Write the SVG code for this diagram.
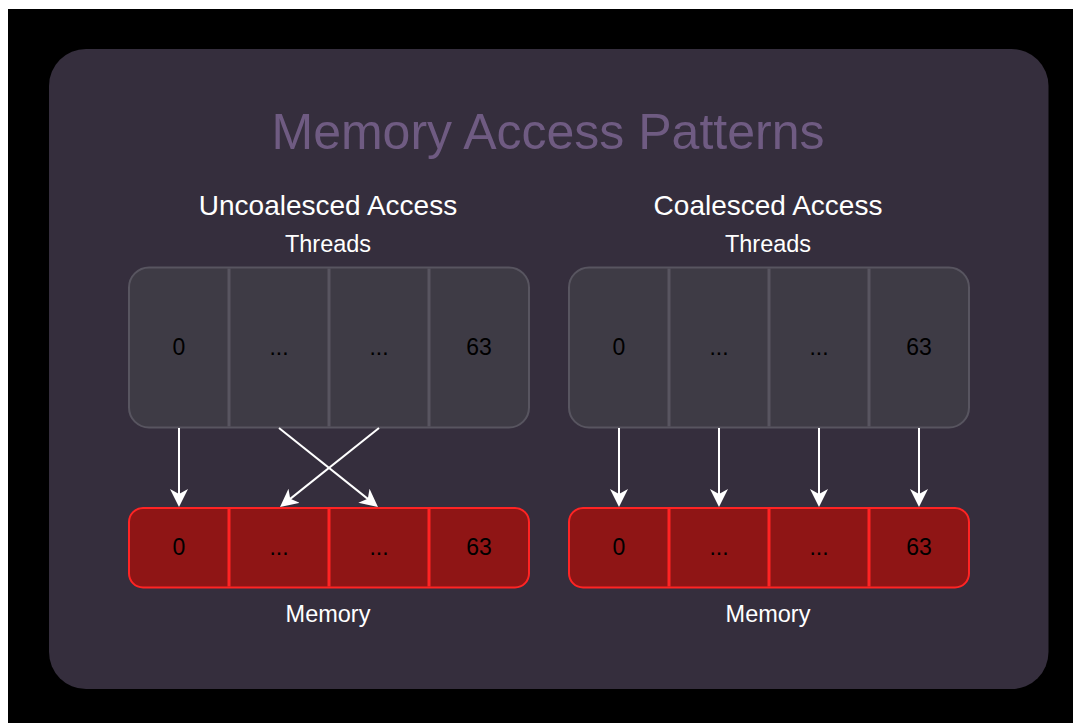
<svg xmlns="http://www.w3.org/2000/svg" width="1073" height="723" viewBox="0 0 1073 723">
  <defs>
    <style>
      .txt { font-family: "Liberation Sans", Arial, sans-serif; }
      .title { font-size: 50px; fill: #6f5b82; }
      .heading { font-size: 28px; fill: #ffffff; }
      .label { font-size: 23.5px; fill: #ffffff; }
      .cell { font-size: 23px; fill: #000000; }
      .threads { fill: #3e3b45; stroke: #585560; stroke-width: 2; }
      .threads-div { stroke: #585560; stroke-width: 3; }
      .mem { fill: #8f1515; stroke: #ff2424; stroke-width: 2; }
      .mem-div { stroke: #ff2424; stroke-width: 3; }
      .conn { stroke: #ffffff; stroke-width: 2; fill: none; marker-end: url(#arrow); }
    </style>
    <marker id="arrow" viewBox="0 0 18 18" refX="11" refY="9" markerWidth="18" markerHeight="18" markerUnits="userSpaceOnUse" orient="auto">
      <path d="M0,0 L18,9 L0,18 L5,9 Z" fill="#ffffff"/>
    </marker>
  </defs>

  <!-- page and frame -->
  <rect x="0" y="0" width="1073" height="723" fill="#ffffff"/>
  <rect x="8" y="9" width="1065" height="714" fill="#000000"/>
  <rect x="49" y="49" width="999.5" height="640" rx="37" fill="#352e3d"/>

  <text class="txt title" x="548" y="149" text-anchor="middle">Memory Access Patterns</text>

  <!-- left panel: uncoalesced -->
  <g id="uncoalesced-header">
    <text class="txt heading" x="328" y="215" text-anchor="middle">Uncoalesced Access</text>
    <text class="txt label" x="328" y="252" text-anchor="middle">Threads</text>
  </g>
  <g id="uncoalesced-threads">
    <rect class="threads" x="129" y="267.5" width="400" height="160" rx="20"/>
    <line class="threads-div" x1="229" y1="268.5" x2="229" y2="426.5"/>
    <line class="threads-div" x1="329" y1="268.5" x2="329" y2="426.5"/>
    <line class="threads-div" x1="429" y1="268.5" x2="429" y2="426.5"/>
    <text class="txt cell" x="179" y="355" text-anchor="middle">0</text>
    <text class="txt cell" x="279" y="355" text-anchor="middle">...</text>
    <text class="txt cell" x="379" y="355" text-anchor="middle">...</text>
    <text class="txt cell" x="479" y="355" text-anchor="middle">63</text>
  </g>
  <g id="uncoalesced-memory">
    <rect class="mem" x="129" y="508" width="400" height="79.5" rx="14"/>
    <line class="mem-div" x1="229" y1="509" x2="229" y2="586.5"/>
    <line class="mem-div" x1="329" y1="509" x2="329" y2="586.5"/>
    <line class="mem-div" x1="429" y1="509" x2="429" y2="586.5"/>
    <text class="txt cell" x="179" y="555" text-anchor="middle">0</text>
    <text class="txt cell" x="279" y="555" text-anchor="middle">...</text>
    <text class="txt cell" x="379" y="555" text-anchor="middle">...</text>
    <text class="txt cell" x="479" y="555" text-anchor="middle">63</text>
    <text class="txt label" x="328" y="622" text-anchor="middle">Memory</text>
  </g>

  <!-- right panel: coalesced -->
  <g id="coalesced-header">
    <text class="txt heading" x="768" y="215" text-anchor="middle">Coalesced Access</text>
    <text class="txt label" x="768" y="252" text-anchor="middle">Threads</text>
  </g>
  <g id="coalesced-threads">
    <rect class="threads" x="569" y="267.5" width="400" height="160" rx="20"/>
    <line class="threads-div" x1="669" y1="268.5" x2="669" y2="426.5"/>
    <line class="threads-div" x1="769" y1="268.5" x2="769" y2="426.5"/>
    <line class="threads-div" x1="869" y1="268.5" x2="869" y2="426.5"/>
    <text class="txt cell" x="619" y="355" text-anchor="middle">0</text>
    <text class="txt cell" x="719" y="355" text-anchor="middle">...</text>
    <text class="txt cell" x="819" y="355" text-anchor="middle">...</text>
    <text class="txt cell" x="919" y="355" text-anchor="middle">63</text>
  </g>
  <g id="coalesced-memory">
    <rect class="mem" x="569" y="508" width="400" height="79.5" rx="14"/>
    <line class="mem-div" x1="669" y1="509" x2="669" y2="586.5"/>
    <line class="mem-div" x1="769" y1="509" x2="769" y2="586.5"/>
    <line class="mem-div" x1="869" y1="509" x2="869" y2="586.5"/>
    <text class="txt cell" x="619" y="555" text-anchor="middle">0</text>
    <text class="txt cell" x="719" y="555" text-anchor="middle">...</text>
    <text class="txt cell" x="819" y="555" text-anchor="middle">...</text>
    <text class="txt cell" x="919" y="555" text-anchor="middle">63</text>
    <text class="txt label" x="768" y="622" text-anchor="middle">Memory</text>
  </g>

  <!-- thread-to-memory connectors -->
  <g id="connectors">
    <line class="conn" x1="179" y1="428" x2="179" y2="500"/>
    <line class="conn" x1="279" y1="428" x2="372.5" y2="502.6"/>
    <line class="conn" x1="379" y1="428" x2="285.5" y2="502.6"/>
    <line class="conn" x1="619" y1="428" x2="619" y2="500"/>
    <line class="conn" x1="719" y1="428" x2="719" y2="500"/>
    <line class="conn" x1="819" y1="428" x2="819" y2="500"/>
    <line class="conn" x1="919" y1="428" x2="919" y2="500"/>
  </g>
</svg>
